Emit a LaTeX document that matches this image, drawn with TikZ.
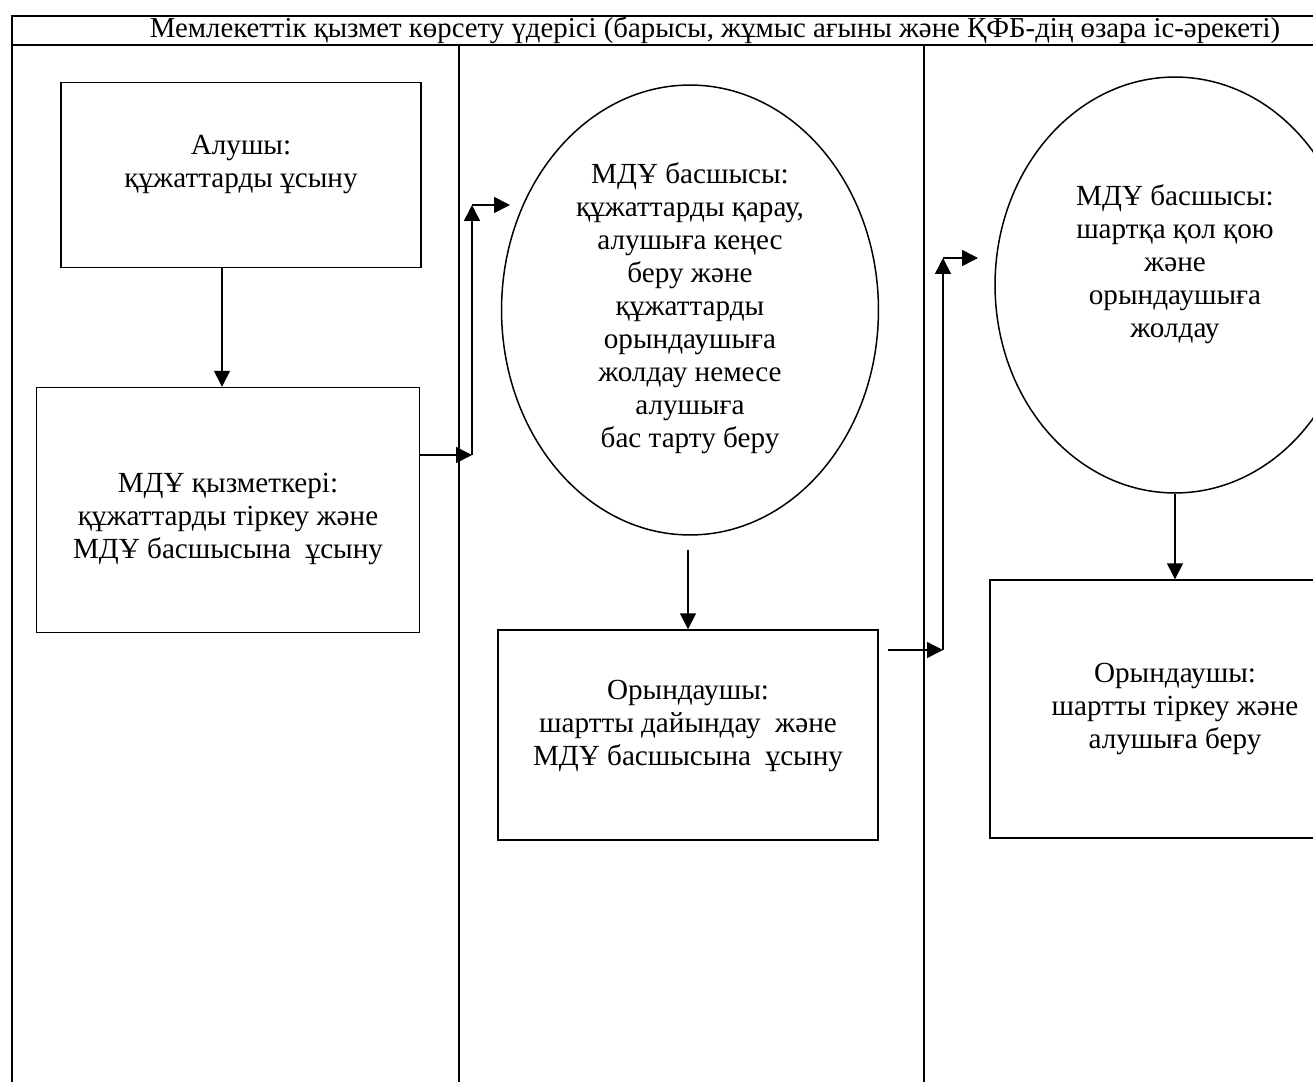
\documentclass[tikz,border=0pt]{standalone}
\usepackage{fontspec}
\setmainfont{Liberation Serif}
\usetikzlibrary{shapes.geometric,arrows.meta}

\tikzset{
  stepbox/.style={draw, rectangle, inner sep=0pt},
  headbox/.style={draw, ellipse, inner sep=0pt},
  steptext/.style={align=center, inner sep=0pt},
}

\begin{document}
\begin{tikzpicture}[x=0.02cm, y=-0.02cm, line width=0.85pt,
    >={Triangle[length=9pt,width=9pt]},
    font=\fontsize{16.6}{18.8}\selectfont]
  \useasboundingbox (0,0) rectangle (1313,1082);

  % lanes
  \draw (12,1082) -- (12,16) -- (1313,16);
  \draw (12,45) -- (1313,45);
  \draw (459,45) -- (459,1082);
  \draw (924,45) -- (924,1082);
  \node[font=\fontsize{16.4}{18.8}\selectfont] (title) at (715,30) {Мемлекеттік қызмет көрсету үдерісі (барысы, жұмыс ағыны және ҚФБ-дің өзара іс-әрекеті)};

  % shapes
  \node[stepbox, minimum width=7.2cm, minimum height=3.7cm] (apply) at (241,175) {};
  \node[stepbox, minimum width=7.66cm, minimum height=4.9cm] (register) at (228,510) {};
  \node[headbox, minimum width=7.54cm, minimum height=9.0cm] (review) at (690,310) {};
  \node[stepbox, minimum width=7.6cm, minimum height=4.2cm] (prepare) at (688,735) {};
  \node[headbox, minimum width=7.2cm, minimum height=8.32cm] (sign) at (1175,285) {};
  \node[stepbox, minimum width=7.4cm, minimum height=5.16cm] (issue) at (1175,709) {};

  % texts
  \node[steptext] (apply-t) at (241,165) {Алушы:\\ құжаттарды ұсыну};
  \node[steptext] (register-t) at (228,519) {МДҰ қызметкері:\\ құжаттарды тіркеу және\\ МДҰ басшысына\ \ ұсыну};
  \node[steptext] (review-t) at (690,308) {МДҰ басшысы:\\ құжаттарды қарау,\\ алушыға кеңес\\ беру және\\ құжаттарды\\ орындаушыға\\ жолдау немесе\\ алушыға\\ бас тарту беру};
  \node[steptext] (prepare-t) at (688,726) {Орындаушы:\\ шартты дайындау\ \ және\\ МДҰ басшысына\ \ ұсыну};
  \node[steptext] (sign-t) at (1175,264) {МДҰ басшысы:\\ шартқа қол қою\\ және\\ орындаушыға\\ жолдау};
  \node[steptext] (issue-t) at (1175,709) {Орындаушы:\\ шартты тіркеу және\\ алушыға беру};

  % connectors
  \coordinate (a1) at (222,0);
  \draw[->] (apply.south -| a1) -- (register.north -| a1);

  \coordinate (b1) at (472,455);
  \coordinate (b2) at (472,205);
  \coordinate (b3) at (510,205);
  \draw[->] (register.east |- b1) -- (b1);
  \draw[->] (b1) -- (b2);
  \draw[->] (b2) -- (b3);

  \coordinate (d1) at (688,0);
  \draw[->, shorten <=8pt] (review.south -| d1) -- (prepare.north -| d1);

  \coordinate (c1) at (943,650);
  \coordinate (c2) at (943,258);
  \coordinate (c3) at (978,258);
  \draw[->, shorten <=5pt] (prepare.east |- c1) -- (c1);
  \draw[->] (c1) -- (c2);
  \draw[->] (c2) -- (c3);

  \draw[->] (sign.south) -- (issue.north);
\end{tikzpicture}
\end{document}
